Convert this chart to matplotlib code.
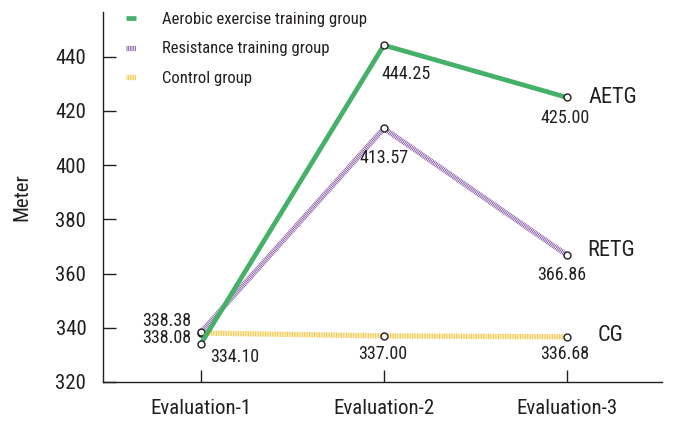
import matplotlib
matplotlib.use("Agg")
import matplotlib.pyplot as plt

plt.rcParams['font.family'] = ['Roboto Condensed', 'DejaVu Sans']

categories = ["Evaluation-1", "Evaluation-2", "Evaluation-3"]
aetg = [334.10, 444.25, 425.00]
retg = [338.38, 413.57, 366.86]
cg = [338.08, 337.00, 336.68]
series_names = ["Aerobic exercise training group", "Resistance training group", "Control group"]
short_names = ["AETG", "RETG", "CG"]
yticks = [320, 340, 360, 380, 400, 420, 440]

green = "#45b068"
purple = "#8a5ca8"
yellow = "#f2c640"
txt = "#231f20"

fig = plt.figure(figsize=(6.74, 4.21), dpi=100)
ax = fig.add_axes([103/674, 39/421, (662-103)/674, (382-12)/421])

x = list(range(len(categories)))
mk = dict(marker='o', markersize=5, markerfacecolor='white', markeredgecolor=txt, markeredgewidth=1)

l1, = ax.plot(x, aetg, color=green, lw=3.4, solid_capstyle='butt', label=series_names[0], zorder=4, **mk)
l2, = ax.plot(x, retg, color=purple, lw=3.8, dashes=(0.18, 0.14), dash_capstyle='butt', label=series_names[1], zorder=3, **mk)
l3, = ax.plot(x, cg, color=yellow, lw=3.8, dashes=(0.18, 0.14), dash_capstyle='butt', label=series_names[2], zorder=2, **mk)

ax.set_xlim(-0.535, 2.52)
ax.set_ylim(320, 456.5)
ax.set_yticks(yticks)
ax.set_xticks(x)
ax.set_xticklabels(categories)
ax.tick_params(axis='both', direction='in', length=9, width=1, color=txt, labelsize=15, labelcolor=txt)
ax.tick_params(axis='y', pad=12)
ax.tick_params(axis='x', pad=12)
for s in ['top', 'right']:
    ax.spines[s].set_visible(False)
for s in ['left', 'bottom']:
    ax.spines[s].set_color(txt)
    ax.spines[s].set_linewidth(1)
ax.set_ylabel("Meter", fontsize=15, color=txt, labelpad=17)

fs = 13
# value labels
ax.text(-0.05, 342.5, f"{retg[0]:.2f}", ha='right', va='center', fontsize=fs, color=txt)
ax.text(-0.05, 336.2, f"{cg[0]:.2f}", ha='right', va='center', fontsize=fs, color=txt)
ax.text(0.185, 329.2, f"{aetg[0]:.2f}", ha='center', va='center', fontsize=fs, color=txt)
ax.text(1.12, 433.7, f"{aetg[1]:.2f}", ha='center', va='center', fontsize=fs, color=txt)
ax.text(1.0, 402.7, f"{retg[1]:.2f}", ha='center', va='center', fontsize=fs, color=txt)
ax.text(0.995, 330.5, f"{cg[1]:.2f}", ha='center', va='center', fontsize=fs, color=txt)
ax.text(1.99, 417.3, f"{aetg[2]:.2f}", ha='center', va='center', fontsize=fs, color=txt)
ax.text(1.97, 359.5, f"{retg[2]:.2f}", ha='center', va='center', fontsize=fs, color=txt)
ax.text(1.99, 330.5, f"{cg[2]:.2f}", ha='center', va='center', fontsize=fs, color=txt)

# series labels
ax.text(2.12, aetg[2], short_names[0], ha='left', va='center', fontsize=16, color=txt)
ax.text(2.11, retg[2] + 1.5, short_names[1], ha='left', va='center', fontsize=16, color=txt)
ax.text(2.17, cg[2] + 0.5, short_names[2], ha='left', va='center', fontsize=16, color=txt)

leg = ax.legend(handles=[l1, l2, l3], loc='upper left', bbox_to_anchor=(0.014, 1.04),
                frameon=False, fontsize=12, handlelength=0.6, handletextpad=1.6,
                labelspacing=0.85)
for h in leg.get_lines():
    h.set_marker('')
for t in leg.get_texts():
    t.set_color(txt)

fig.savefig("out.png", dpi=100)
